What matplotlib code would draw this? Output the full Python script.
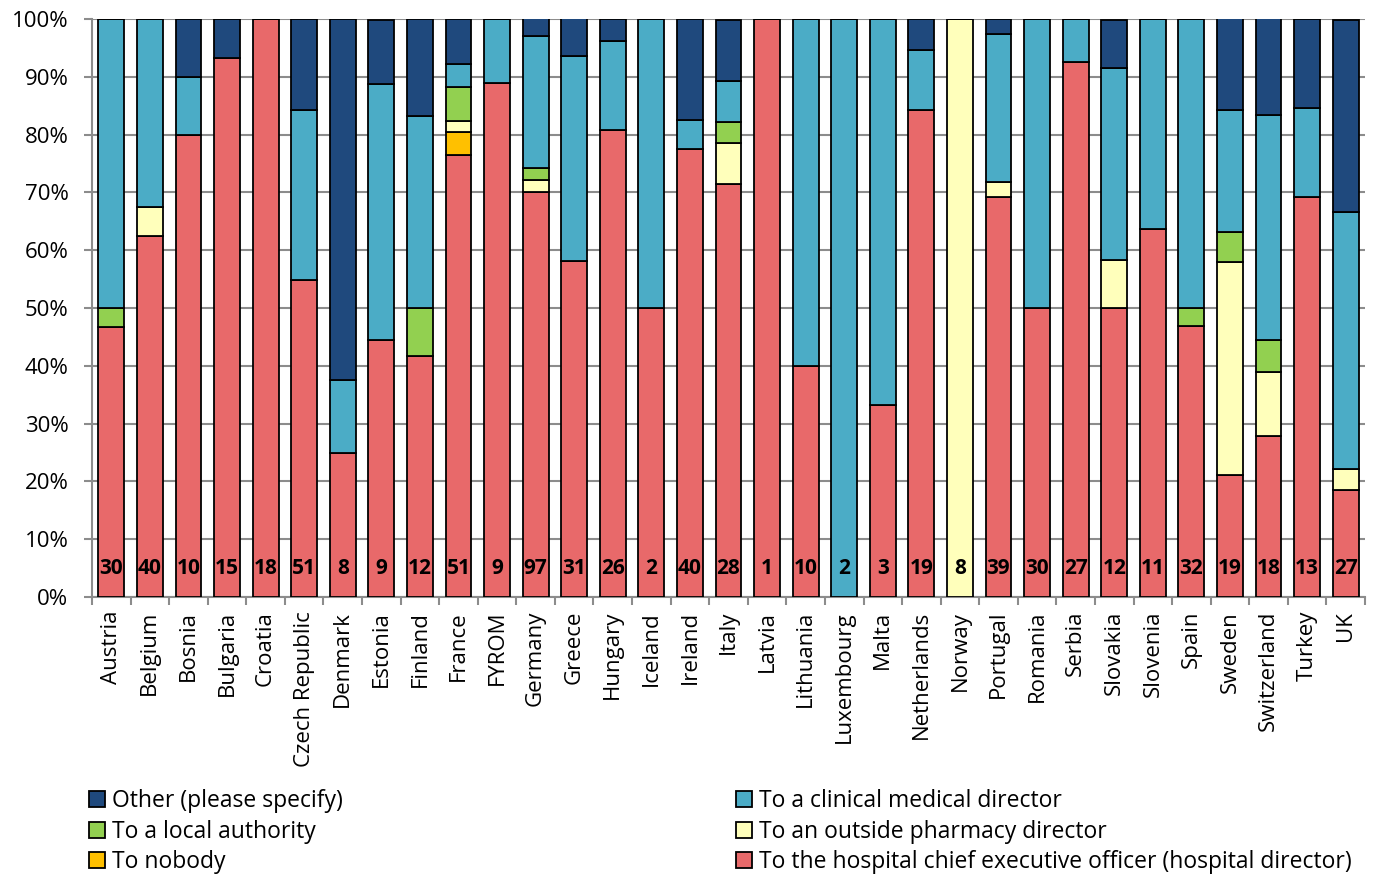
import matplotlib
matplotlib.use("Agg")
import matplotlib.pyplot as plt
from matplotlib.patches import Patch
import numpy as np

countries = ["Austria", "Belgium", "Bosnia", "Bulgaria", "Croatia", "Czech Republic",
             "Denmark", "Estonia", "Finland", "France", "FYROM", "Germany", "Greece",
             "Hungary", "Iceland", "Ireland", "Italy", "Latvia", "Lithuania", "Luxembourg",
             "Malta", "Netherlands", "Norway", "Portugal", "Romania", "Serbia", "Slovakia",
             "Slovenia", "Spain", "Sweden", "Switzerland", "Turkey", "UK"]
n_resp = [30, 40, 10, 15, 18, 51, 8, 9, 12, 51, 9, 97, 31, 26, 2, 40, 28, 1, 10, 2,
          3, 19, 8, 39, 30, 27, 12, 11, 32, 19, 18, 13, 27]

# percentages, stacked from bottom
ceo = [46.7, 62.5, 80.0, 93.3, 100, 54.9, 25.0, 44.4, 41.7, 76.5, 88.9, 70.1, 58.1,
       80.8, 50.0, 77.5, 71.4, 100, 40.0, 0, 33.3, 84.2, 0, 69.2, 50.0, 92.6, 50.0,
       63.6, 46.9, 21.1, 27.8, 69.2, 18.5]
nobody = [0, 0, 0, 0, 0, 0, 0, 0, 0, 3.9, 0, 0, 0, 0, 0, 0, 0, 0, 0, 0, 0, 0, 0, 0,
          0, 0, 0, 0, 0, 0, 0, 0, 0]
outside = [0, 5.0, 0, 0, 0, 0, 0, 0, 0, 2.0, 0, 2.1, 0, 0, 0, 0, 7.1, 0, 0, 0, 0, 0,
           100, 2.6, 0, 0, 8.3, 0, 0, 36.8, 11.1, 0, 3.7]
local = [3.3, 0, 0, 0, 0, 0, 0, 0, 8.3, 5.9, 0, 2.1, 0, 0, 0, 0, 3.6, 0, 0, 0, 0, 0,
         0, 0, 0, 0, 0, 0, 3.1, 5.3, 5.6, 0, 0]
clinical = [50.0, 32.5, 10.0, 0, 0, 29.4, 12.5, 44.4, 33.3, 3.9, 11.1, 22.7, 35.5,
            15.4, 50.0, 5.0, 7.1, 0, 60.0, 100, 66.7, 10.5, 0, 25.6, 50.0, 7.4, 33.3,
            36.4, 50.0, 21.1, 38.9, 15.4, 44.4]
other = [0, 0, 10.0, 6.7, 0, 15.7, 62.5, 11.1, 16.7, 7.8, 0, 3.1, 6.5, 3.8, 0, 17.5,
         10.7, 0, 0, 0, 0, 5.3, 0, 2.6, 0, 0, 8.3, 0, 0, 15.8, 16.7, 15.4, 33.3]

series = [
    ("To the hospital chief executive officer (hospital director)", ceo, "#E8696A"),
    ("To nobody", nobody, "#FFC000"),
    ("To an outside pharmacy director", outside, "#FFFFBB"),
    ("To a local authority", local, "#92D050"),
    ("To a clinical medical director", clinical, "#4BACC6"),
    ("Other (please specify)", other, "#1F497D"),
]

plt.rcParams['font.family'] = ['Open Sans', 'DejaVu Sans']

fig = plt.figure(figsize=(13.78, 8.75), dpi=100)
ax = fig.add_axes([92/1378, 1 - 597/875, (1365-92)/1378, (597-19)/875])

x = np.arange(len(countries))
bottom = np.zeros(len(countries))
handles = {}
for label, vals, color in series:
    v = np.array(vals, dtype=float)
    ax.bar(x, v, bottom=bottom, width=0.67, color=color, edgecolor="black",
           linewidth=1.3, zorder=3)
    bottom += v
    handles[label] = Patch(facecolor=color, edgecolor="black", linewidth=1.3)

for xi, n in zip(x, n_resp):
    ax.text(xi, 4.9, str(n), ha="center", va="center", fontsize=15,
            fontweight="bold", color="black", zorder=4)

ax.set_xlim(-0.5, len(countries) - 0.5)
ax.set_ylim(0, 100)
ax.set_yticks(np.arange(0, 101, 10))
ax.set_yticklabels([f"{v}%" for v in range(0, 101, 10)], fontsize=16)
ax.yaxis.grid(True, color="#8C8C8C", linewidth=1.5, zorder=0)
ax.set_axisbelow(True)

ax.set_xticks(x)
ax.set_xticklabels(countries, rotation=90, fontsize=16)
ax.tick_params(axis="x", length=0, pad=10)
ax.set_xticks(np.arange(-0.5, len(countries), 1), minor=True)
ax.tick_params(axis="x", which="minor", length=6, color="#8C8C8C", width=1.5)
ax.tick_params(axis="y", length=6, color="#8C8C8C", width=1.5, pad=11)

for s in ["top", "right"]:
    ax.spines[s].set_visible(False)
for s in ["left", "bottom"]:
    ax.spines[s].set_color("#8C8C8C")
    ax.spines[s].set_linewidth(1.5)

col1 = ["Other (please specify)", "To a local authority", "To nobody"]
col2 = ["To a clinical medical director", "To an outside pharmacy director",
        "To the hospital chief executive officer (hospital director)"]
for labels, xpos in [(col1, 80/1378), (col2, 727/1378)]:
    leg = fig.legend([handles[l] for l in labels], labels, loc="upper left",
                     bbox_to_anchor=(xpos, 1 - 780/875), frameon=False, fontsize=16.5,
                     handlelength=0.7, handleheight=0.7, handletextpad=0.3,
                     labelspacing=0.28, borderaxespad=0)

fig.savefig("out.png", dpi=100)
